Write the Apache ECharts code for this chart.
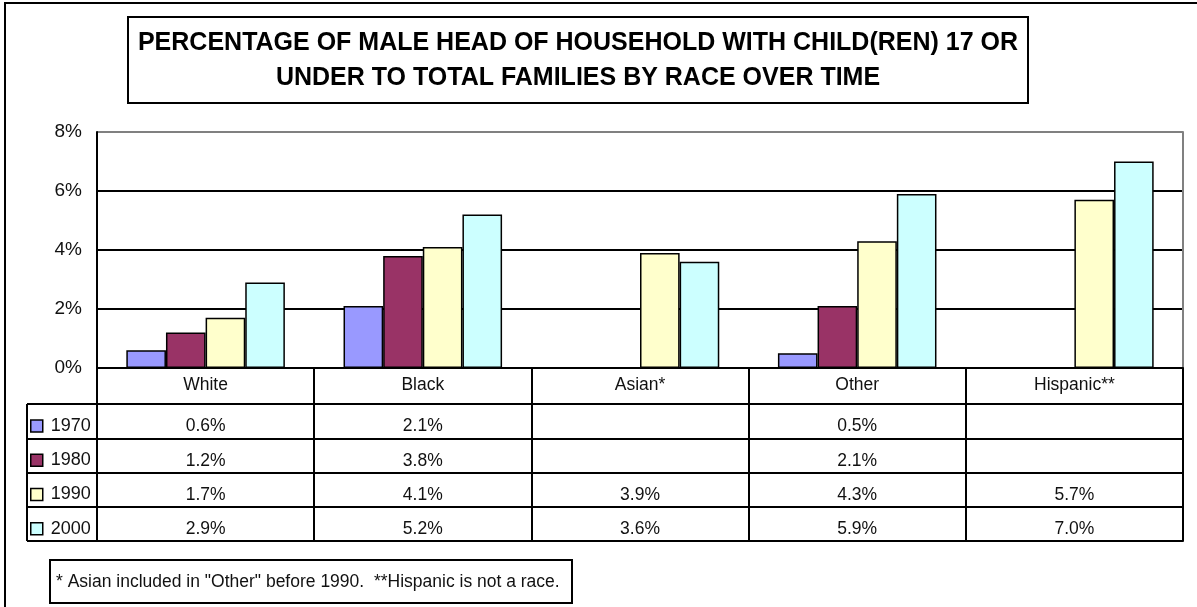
<!DOCTYPE html>
<html>
<head>
<meta charset="utf-8">
<script src="https://cdn.jsdelivr.net/npm/echarts@6/dist/echarts.min.js"></script>
<style>
  html, body { margin: 0; padding: 0; background: #fff; }
  #chart { width: 1197px; height: 607px; }
</style>
</head>
<body>
<div id="chart"></div>
<script>
// data
const races = ['White', 'Black', 'Asian*', 'Other', 'Hispanic**'];
const years = ['1970', '1980', '1990', '2000'];
const v1970 = [0.6, 2.1, null, 0.5, null];
const v1980 = [1.2, 3.8, null, 2.1, null];
const v1990 = [1.7, 4.1, 3.9, 4.3, 5.7];
const v2000 = [2.9, 5.2, 3.6, 5.9, 7.0];
const yTicks = [0, 2, 4, 6, 8];

const seriesValues = [v1970, v1980, v1990, v2000];
const colors = ['#9999FF', '#993366', '#FFFFCC', '#CCFFFF'];
const font = 'Arial, "Liberation Sans", sans-serif';

// table row offsets below the x axis line (px)
const rowOffsets = [36, 71, 105, 139, 173];
const axisY = 368;

const myChart = echarts.init(document.getElementById('chart'));

const fmt = v => (v === null || v === undefined) ? '' : v.toFixed(1) + '%';
const lineBlack = { color: '#000', width: 2 };

// one extra x axis per table row, label = value of that series
const rowAxes = seriesValues.map((vals, i) => ({
  type: 'category',
  data: races,
  position: 'bottom',
  offset: rowOffsets[i],
  axisLine: { show: true, onZero: false, lineStyle: lineBlack },
  axisTick: { show: true, interval: 0, alignWithLabel: false, length: rowOffsets[i + 1] - rowOffsets[i], lineStyle: lineBlack },
  axisLabel: {
    interval: 0, margin: 13, fontSize: 17.5, fontFamily: font, color: '#111',
    formatter: (val, idx) => fmt(vals[idx])
  },
  splitLine: { show: false }
}));

// bottom closing line of the table
rowAxes.push({
  type: 'category',
  data: races,
  position: 'bottom',
  offset: rowOffsets[4],
  axisLine: { show: true, onZero: false, lineStyle: lineBlack },
  axisTick: { show: false },
  axisLabel: { show: false }
});

// legend column boxes
const legendCells = [{
  type: 'line', shape: { x1: 27, y1: axisY + rowOffsets[0], x2: 27, y2: axisY + rowOffsets[4] },
  style: { stroke: '#000', lineWidth: 2 }
}];
rowOffsets.forEach(o => {
  legendCells.push({
    type: 'line', shape: { x1: 27, y1: axisY + o, x2: 97, y2: axisY + o },
    style: { stroke: '#000', lineWidth: 2 }
  });
});

const option = {
  backgroundColor: '#fff',
  animation: false,
  grid: { left: 97, right: 14, top: 132, bottom: 607 - axisY, containLabel: false },
  legend: {
    orient: 'vertical',
    left: 30,
    top: 417,
    padding: 0,
    itemWidth: 12,
    itemHeight: 12,
    itemGap: 16.25,
    icon: 'rect',
    data: years,
    itemStyle: { borderColor: '#000', borderWidth: 1.5 },
    textStyle: { fontSize: 18, fontFamily: font, color: '#111', padding: [0, 0, 0, 3] }
  },
  xAxis: [{
    type: 'category',
    data: races,
    position: 'bottom',
    axisLine: { show: true, lineStyle: lineBlack },
    axisTick: { show: true, interval: 0, alignWithLabel: false, length: rowOffsets[0], lineStyle: lineBlack },
    axisLabel: { interval: 0, margin: 8, fontSize: 17.5, fontFamily: font, color: '#111' }
  }].concat(rowAxes),
  yAxis: [{
    type: 'value',
    min: yTicks[0],
    max: yTicks[yTicks.length - 1],
    interval: 2,
    axisLine: { show: true, onZero: false, lineStyle: lineBlack },
    axisTick: { show: false },
    axisLabel: { margin: 15, fontSize: 19, fontFamily: font, color: '#111', formatter: '{value}%' },
    splitLine: { show: true, lineStyle: { color: ['#000', '#000', '#000', '#000', '#808080'], width: 2 } }
  }, {
    type: 'value',
    position: 'right',
    min: yTicks[0],
    max: yTicks[yTicks.length - 1],
    interval: 2,
    axisLine: { show: true, onZero: false, lineStyle: { color: '#808080', width: 2 } },
    axisTick: { show: false },
    axisLabel: { show: false },
    splitLine: { show: false }
  }],
  series: seriesValues.map((vals, i) => ({
    name: years[i],
    type: 'bar',
    data: vals,
    barGap: '0%',
    barCategoryGap: '27%',
    itemStyle: { color: colors[i], borderColor: '#000', borderWidth: 1.5 }
  })),
  graphic: [
    // outer frame
    { type: 'rect', shape: { x: 5, y: 3, width: 1300, height: 700 }, style: { fill: 'none', stroke: '#000', lineWidth: 2 }, z: 0 },
    // title box
    { type: 'rect', shape: { x: 128, y: 17, width: 900, height: 86 }, style: { fill: '#fff', stroke: '#000', lineWidth: 2 } },
    {
      type: 'text', x: 578, y: 61,
      style: {
        text: 'PERCENTAGE OF MALE HEAD OF HOUSEHOLD WITH CHILD(REN) 17 OR\nUNDER TO TOTAL FAMILIES BY RACE OVER TIME',
        font: 'bold 25px ' + font, fill: '#000', align: 'center', verticalAlign: 'middle', lineHeight: 35
      }
    },
    // footnote box
    { type: 'rect', shape: { x: 50, y: 560, width: 522, height: 43 }, style: { fill: '#fff', stroke: '#000', lineWidth: 2 } },
    {
      type: 'text', x: 56, y: 582,
      style: { text: '* Asian included in "Other" before 1990.  **Hispanic is not a race.', font: '17.5px ' + font, fill: '#111', verticalAlign: 'middle' }
    }
  ].concat(legendCells)
};

myChart.setOption(option);
window.addEventListener('resize', () => myChart.resize());
</script>
</body>
</html>
